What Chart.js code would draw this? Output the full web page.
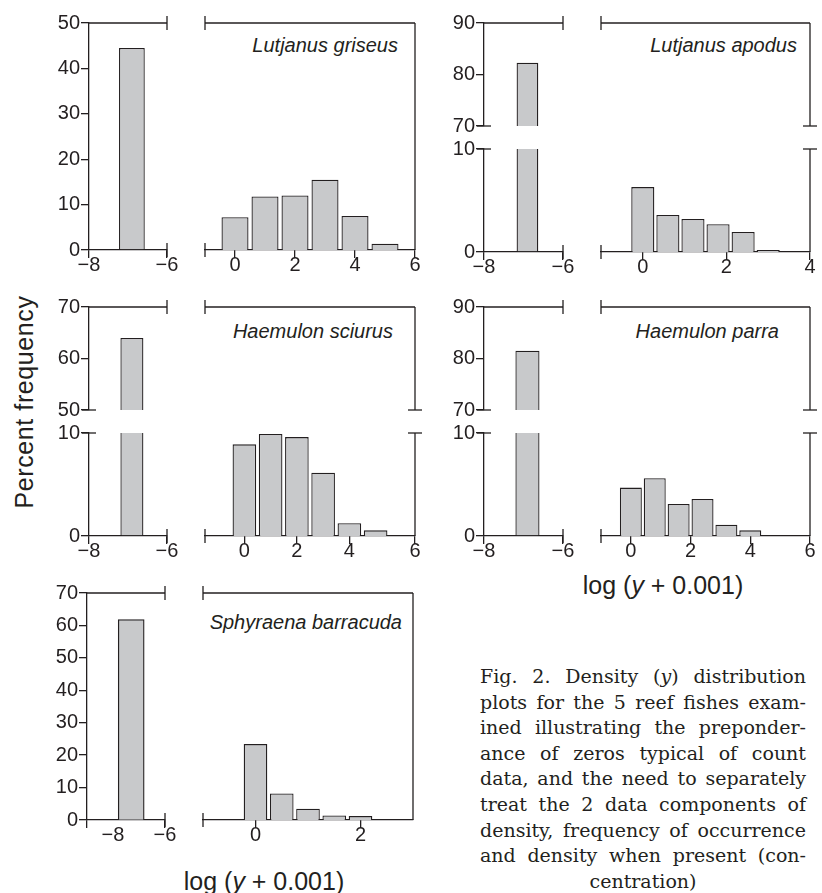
<!DOCTYPE html>
<html>
<head>
<meta charset="utf-8">
<script src="https://cdn.jsdelivr.net/npm/chart.js@4.4.0/dist/chart.umd.min.js"></script>
<style>
  body { margin: 0; background: #fff; }
  #fig { position: relative; width: 822px; height: 893px; overflow: hidden;
         font-family: 'Liberation Sans', Arial, sans-serif; color: #231f20; }
  #fig canvas { position: absolute; }
  .sp { position: absolute; font-style: italic; font-size: 20px; white-space: nowrap;
        transform: translate(-100%, -50%); }
  .axl { position: absolute; font-size: 25px; white-space: nowrap; transform: translate(-50%, -50%); }
  .ylab { position: absolute; font-size: 25px; letter-spacing: 0.6px; white-space: nowrap;
          transform: translate(-50%, -50%) rotate(-90deg); }
  #cap { position: absolute; left: 480px; top: 664px; width: 326px;
         font-family: 'DejaVu Serif', serif; font-size: 19px; color: #231f20; }
  #cap div { height: 25.6px; line-height: 25.6px; text-align: justify; text-align-last: justify; white-space: nowrap; }
  #cap div.c { text-align: center; text-align-last: center; }
</style>
</head>
<body>
<div id="fig">
  <div class="sp" style="left:398px; top:45px;">Lutjanus griseus</div>
  <div class="sp" style="left:797px; top:45px;">Lutjanus apodus</div>
  <div class="sp" style="left:393px; top:331px;">Haemulon sciurus</div>
  <div class="sp" style="left:779px; top:331px;">Haemulon parra</div>
  <div class="sp" style="left:402px; top:622px;">Sphyraena barracuda</div>
  <div class="ylab" style="left:24px; top:402px;">Percent frequency</div>
  <div class="axl" style="left:663px; top:585px;">log (<i>y</i> + 0.001)</div>
  <div class="axl" style="left:264px; top:881px;">log (<i>y</i> + 0.001)</div>
  <div id="cap">
    <div>Fig. 2. Density (<i>y</i>) distribution</div>
    <div>plots for the 5 reef fishes exam-</div>
    <div>ined illustrating the preponder-</div>
    <div>ance of zeros typical of count</div>
    <div>data, and the need to separately</div>
    <div>treat the 2 data components of</div>
    <div>density, frequency of occurrence</div>
    <div>and density when present (con-</div>
    <div class="c">centration)</div>
  </div>
</div>
<script>
// Zero bin (log of 0.001) and positive-density bins
const griseusZeroX = [-6.9];
const griseusZeroY = [44.5];
const griseusX = [0, 1, 2, 3, 4, 5];
const griseusY = [7.2, 11.8, 12.0, 15.5, 7.5, 1.4];

const apodusZeroX = [-6.9];
const apodusZeroY = [82.3];
const apodusX = [0, 0.6, 1.2, 1.8, 2.4, 3.0];
const apodusY = [6.3, 3.6, 3.2, 2.7, 1.95, 0.2];

const sciurusZeroX = [-6.9];
const sciurusZeroY = [64.0];
const sciurusX = [0, 1, 2, 3, 4, 5];
const sciurusY = [8.9, 9.9, 9.6, 6.15, 1.25, 0.55];

const parraZeroX = [-6.9];
const parraZeroY = [81.5];
const parraX = [0, 0.8, 1.6, 2.4, 3.2, 4.0];
const parraY = [4.7, 5.6, 3.1, 3.6, 1.1, 0.55];

const barracudaZeroX = [-7.3];
const barracudaZeroY = [61.8];
const barracudaX = [0, 0.5, 1, 1.5, 2];
const barracudaY = [23.4, 8.2, 3.5, 1.4, 1.2];

// tick labels
const leftTicks = [-8, -6];
const leftLabels = ['\u22128', '\u22126'];
const barracudaLeftTicks = [-9, -8, -6];
const barracudaLeftLabels = ['', '\u22128', '\u22126'];
const rightTicks6 = [0, 2, 4, 6];
const rightLabels6 = ['0', '2', '4', '6'];
const apodusTicks = [0, 2, 4];
const apodusLabels = ['0', '2', '4'];
const sciurusTicks = [0, 2, 4, 6.5];
const sciurusLabels = ['0', '2', '4', '6'];
const barracudaTicks = [0, 2];
const barracudaLabels = ['0', '2'];

const INK = '#231f20', FILL = '#c8c9cb', LW = 1.3;
const PADL = 46, PADR = 16, PADT = 14, PADB = 32, MARK = 7;
const FONT = { family: "'Liberation Sans', Arial, sans-serif", size: 20, lineHeight: 1 };
const fig = document.getElementById('fig');

// frame lines and axis-break marks around the plot area
const framePlugin = {
  id: 'frame',
  afterDraw(chart, args, o) {
    const a = chart.chartArea, ctx = chart.ctx;
    ctx.save();
    ctx.strokeStyle = INK;
    ctx.lineWidth = LW;
    const seg = (x1, y1, x2, y2) => { ctx.beginPath(); ctx.moveTo(x1, y1); ctx.lineTo(x2, y2); ctx.stroke(); };
    if (o.top) seg(a.left, a.top, a.right, a.top);
    if (o.right) seg(a.right, a.top, a.right, a.bottom);
    (o.vmarks || []).forEach(m => { const x = a[m[0]], y = a[m[1]]; seg(x, y - MARK, x, y + MARK); });
    (o.hmarks || []).forEach(m => { const x = a[m[0]], y = a[m[1]]; seg(x - MARK, y, x + MARK, y); });
    ctx.restore();
  }
};

function makeSub(box, s) {
  const cv = document.createElement('canvas');
  const w = Math.round(box.w + PADL + PADR), h = Math.round(box.h + PADT + PADB);
  cv.width = w; cv.height = h;
  cv.style.left = (box.x - PADL) + 'px';
  cv.style.top = (box.y - PADT) + 'px';
  cv.style.width = w + 'px';
  cv.style.height = h + 'px';
  fig.appendChild(cv);

  new Chart(cv, {
    type: 'bar',
    data: {
      datasets: [{
        data: s.xs.map((x, i) => ({ x: x, y: s.ys[i] })),
        backgroundColor: FILL,
        borderColor: INK,
        borderWidth: LW,
        barPercentage: s.barPct,
        categoryPercentage: 1,
        clip: 0
      }]
    },
    plugins: [framePlugin],
    options: {
      responsive: false,
      animation: false,
      events: [],
      devicePixelRatio: 1,
      layout: { padding: { left: 0, top: PADT, right: PADR, bottom: 0 } },
      plugins: { legend: { display: false }, tooltip: { enabled: false }, frame: s.frame },
      scales: {
        x: {
          type: 'linear',
          min: s.xMin, max: s.xMax,
          offset: false,
          afterBuildTicks: sc => { sc.ticks = s.xTicks.map(v => ({ value: v })); },
          afterFit: sc => { sc.height = PADB; },
          border: { display: s.xAxis, color: INK, width: LW },
          grid: {
            display: s.xAxis, offset: false, drawOnChartArea: false, tickLength: 8, lineWidth: LW, color: INK,
            tickColor: c => (c.tick && c.tick.value === s.noTick) ? 'rgba(0,0,0,0)' : INK
          },
          ticks: {
            display: s.xAxis, font: FONT, color: INK, padding: -3, maxRotation: 0, autoSkip: false,
            callback: (v, i) => s.xLabels[i]
          }
        },
        y: {
          min: s.yMin, max: s.yMax,
          afterFit: sc => { sc.width = PADL; },
          border: { display: s.yAxis, color: INK, width: LW },
          grid: { display: s.yAxis, drawOnChartArea: false, tickLength: 8, lineWidth: LW, color: INK },
          ticks: { display: s.yAxis, stepSize: 10, font: FONT, color: INK, padding: 1 }
        }
      }
    }
  });
}

// one unbroken panel: zero bin on the left, positive bins on the right
function plainPanel(lBox, rBox, p) {
  makeSub(lBox, {
    xs: p.zx, ys: p.zy, barPct: p.zPct, xMin: p.lMin, xMax: -6, xTicks: p.lTicks, xLabels: p.lLabels,
    noTick: p.noTick, yMin: 0, yMax: p.yMax, xAxis: true, yAxis: true,
    frame: { top: true, vmarks: [['right', 'top'], ['right', 'bottom']] }
  });
  makeSub(rBox, {
    xs: p.x, ys: p.y, barPct: p.pct, xMin: p.rMin, xMax: p.rMax, xTicks: p.rTicks, xLabels: p.rLabels,
    yMin: 0, yMax: p.yMax, xAxis: true, yAxis: false,
    frame: { top: true, right: true, vmarks: [['left', 'top'], ['left', 'bottom']] }
  });
}

// panel with a broken y axis: upper segment [yLo, yHi], lower segment [0, 10]
function brokenPanel(lx, lw, rx, rw, top, p) {
  const h = 102.5, gap = 23;
  const up = { y: top, h: h }, lo = { y: top + h + gap, h: h };
  makeSub({ x: lx, y: up.y, w: lw, h: up.h }, {
    xs: p.zx, ys: p.zy, barPct: p.zPct, xMin: -8, xMax: -6, xTicks: leftTicks, xLabels: leftLabels,
    yMin: p.yLo, yMax: p.yHi, xAxis: false, yAxis: true,
    frame: { top: true, vmarks: [['right', 'top']], hmarks: [['left', 'bottom']] }
  });
  makeSub({ x: lx, y: lo.y, w: lw, h: lo.h }, {
    xs: p.zx, ys: p.zy, barPct: p.zPct, xMin: -8, xMax: -6, xTicks: leftTicks, xLabels: leftLabels,
    yMin: 0, yMax: 10, xAxis: true, yAxis: true,
    frame: { vmarks: [['right', 'bottom']], hmarks: [['left', 'top']] }
  });
  makeSub({ x: rx, y: up.y, w: rw, h: up.h }, {
    xs: p.x, ys: p.y, barPct: p.pct, xMin: p.rMin, xMax: p.rMax, xTicks: p.rTicks, xLabels: p.rLabels,
    yMin: p.yLo, yMax: p.yHi, xAxis: false, yAxis: false,
    frame: { top: true, right: true, vmarks: [['left', 'top']], hmarks: [['right', 'bottom']] }
  });
  makeSub({ x: rx, y: lo.y, w: rw, h: lo.h }, {
    xs: p.x, ys: p.y, barPct: p.pct, xMin: p.rMin, xMax: p.rMax, xTicks: p.rTicks, xLabels: p.rLabels,
    yMin: 0, yMax: 10, xAxis: true, yAxis: false,
    frame: { right: true, vmarks: [['left', 'bottom']], hmarks: [['right', 'top']] }
  });
}

plainPanel({ x: 89, y: 23, w: 78, h: 227 }, { x: 205, y: 23, w: 210, h: 227 }, {
  zx: griseusZeroX, zy: griseusZeroY, zPct: 0.33, lMin: -8, lTicks: leftTicks, lLabels: leftLabels,
  x: griseusX, y: griseusY, pct: 0.9, rMin: -1, rMax: 6, rTicks: rightTicks6, rLabels: rightLabels6, yMax: 50
});

brokenPanel(484, 79, 601, 209, 23, {
  zx: apodusZeroX, zy: apodusZeroY, zPct: 0.275, yLo: 70, yHi: 90,
  x: apodusX, y: apodusY, pct: 0.92, rMin: -1, rMax: 4, rTicks: apodusTicks, rLabels: apodusLabels
});

brokenPanel(89, 78, 205, 210, 307, {
  zx: sciurusZeroX, zy: sciurusZeroY, zPct: 0.295, yLo: 50, yHi: 70,
  x: sciurusX, y: sciurusY, pct: 0.9, rMin: -1.5, rMax: 6.5, rTicks: sciurusTicks, rLabels: sciurusLabels
});

brokenPanel(484, 79, 601, 209, 307, {
  zx: parraZeroX, zy: parraZeroY, zPct: 0.305, yLo: 70, yHi: 90,
  x: parraX, y: parraY, pct: 0.92, rMin: -1, rMax: 6, rTicks: rightTicks6, rLabels: rightLabels6
});

plainPanel({ x: 87, y: 593, w: 78, h: 227 }, { x: 203, y: 593, w: 210, h: 227 }, {
  zx: barracudaZeroX, zy: barracudaZeroY, zPct: 1.0, lMin: -9, lTicks: barracudaLeftTicks,
  lLabels: barracudaLeftLabels, noTick: -8,
  x: barracudaX, y: barracudaY, pct: 0.9, rMin: -1, rMax: 3, rTicks: barracudaTicks, rLabels: barracudaLabels, yMax: 70
});
</script>
</body>
</html>
